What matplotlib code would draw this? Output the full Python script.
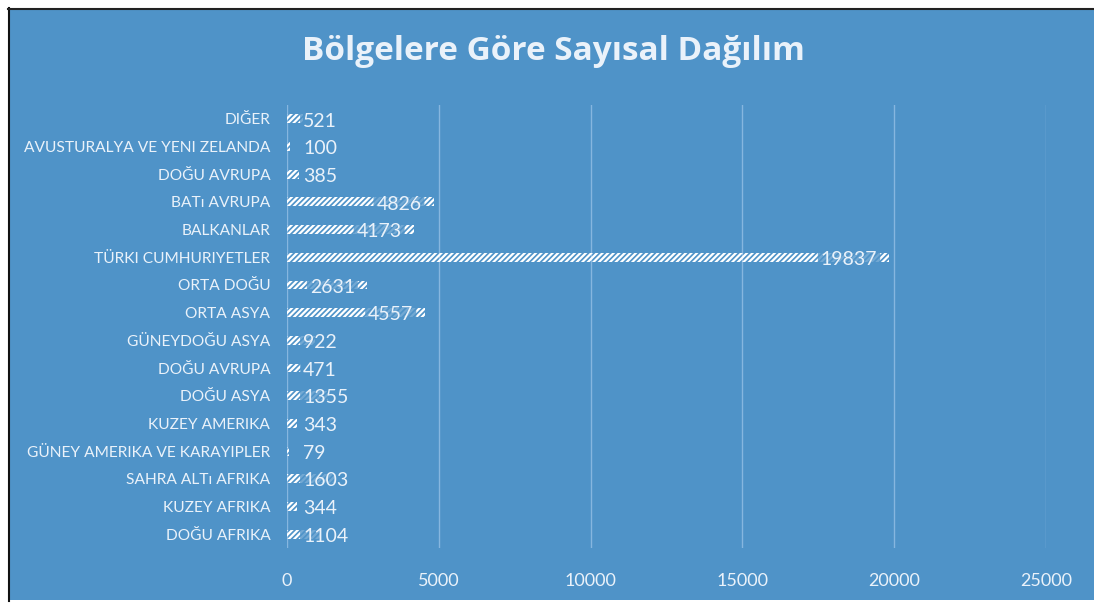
import matplotlib.pyplot as plt
from matplotlib.patches import Rectangle
from matplotlib.lines import Line2D

# bottom-to-top order, as drawn
categories = [
    'DOĞU AFRIKA', 'KUZEY AFRIKA', 'SAHRA ALTı AFRIKA', 'GÜNEY AMERIKA VE KARAYIPLER',
    'KUZEY AMERIKA', 'DOĞU ASYA', 'DOĞU AVRUPA', 'GÜNEYDOĞU ASYA', 'ORTA ASYA',
    'ORTA DOĞU', 'TÜRKI CUMHURIYETLER', 'BALKANLAR', 'BATı AVRUPA', 'DOĞU AVRUPA',
    'AVUSTURALYA VE YENI ZELANDA', 'DIĞER',
]
values = [1104, 344, 1603, 79, 343, 1355, 471, 922, 4557, 2631, 19837, 4173, 4826, 385, 100, 521]
xticks = [0, 5000, 10000, 15000, 20000, 25000]

BG = '#4f93c8'
TXT = '#eaf2fa'
GRID = '#86b6df'

plt.rcParams['font.family'] = ['Lato', 'DejaVu Sans']
plt.rcParams['hatch.linewidth'] = 1.6

W, H = 1094, 603
fig = plt.figure(figsize=(W / 100, H / 100), dpi=100, facecolor='white')

# blue card with the dark border on top/left
fig.patches.append(Rectangle((9 / W, 1 - 600 / H), 1 - 9 / W, (600 - 9) / H,
                             transform=fig.transFigure, facecolor=BG, edgecolor='none', zorder=-5))
fig.lines.append(Line2D([8.5 / W, 8.5 / W], [1 - 601 / H, 1 - 8 / H], transform=fig.transFigure,
                        color='#111111', lw=1.5, zorder=-4))
fig.lines.append(Line2D([8 / W, 1], [1 - 8.5 / H, 1 - 8.5 / H], transform=fig.transFigure,
                        color='#222222', lw=1.5, zorder=-4))

ax = fig.add_axes([287 / W, 1 - 548 / H, (1046 - 287) / W, (548 - 105) / H])
ax.set_facecolor('none')

pos = list(range(len(categories)))
ax.barh(pos, values, height=0.32, facecolor='none', edgecolor='white',
        hatch='//////', linewidth=0, zorder=3)

px = 25000 / (1046 - 287)  # data units per pixel
box = dict(boxstyle='round,pad=0.15', facecolor=BG, edgecolor='none', alpha=0.8)
for y, v in zip(pos, values):
    if v > 2000:
        ax.text(v - 12 * px, y - 0.08, str(v), ha='right', va='center', color=TXT,
                fontsize=14, zorder=4, bbox=box)
    else:
        ax.text(16 * px, y - 0.08, str(v), ha='left', va='center', color=TXT,
                fontsize=14, zorder=4, bbox=box)

ax.set_xlim(0, 25000)
ax.set_ylim(-0.5, len(categories) - 0.5)
ax.set_xticks(xticks)
ax.set_xticklabels([str(t) for t in xticks], color=TXT, fontsize=13)
ax.set_yticks(pos)
ax.set_yticklabels(categories, color=TXT, fontsize=11.2)
ax.tick_params(axis='both', length=0)
ax.tick_params(axis='x', pad=18)
ax.tick_params(axis='y', pad=12)
ax.grid(axis='x', color=GRID, lw=1, zorder=1)
ax.grid(axis='y', visible=False)
for s in ax.spines.values():
    s.set_visible(False)

fig.text(553 / W, 1 - 52 / H, 'Bölgelere Göre Sayısal Dağılım', ha='center', va='center',
         color=TXT, fontsize=24, fontweight='bold', family=['Open Sans', 'DejaVu Sans'])

fig.savefig('out.png', dpi=100, facecolor=fig.get_facecolor())
